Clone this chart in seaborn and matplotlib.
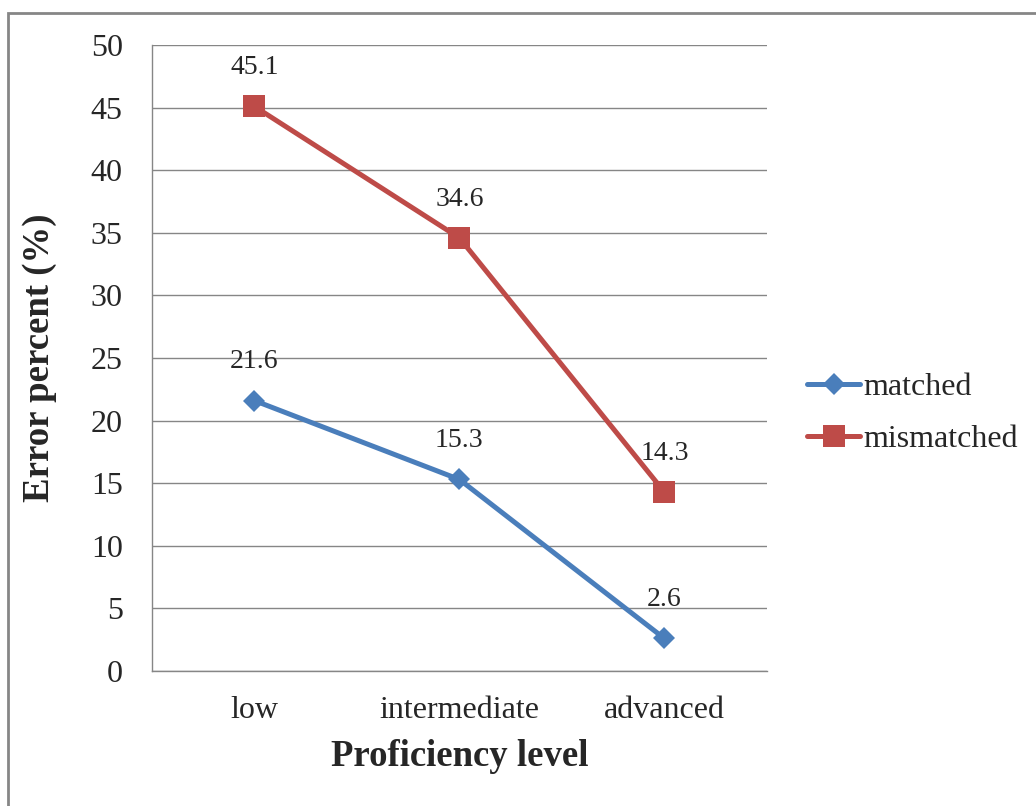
import numpy as np
import pandas as pd
from matplotlib import pyplot as plt
from matplotlib.patches import Rectangle
import seaborn as sns

# data
levels = ['low', 'intermediate', 'advanced']
matched = [21.6, 15.3, 2.6]
mismatched = [45.1, 34.6, 14.3]

df = pd.DataFrame({
    'level': levels * 2,
    'error': matched + mismatched,
    'group': ['matched'] * 3 + ['mismatched'] * 3,
})
df['pos'] = df['level'].map({lv: i for i, lv in enumerate(levels)})

sns.set_style("white")
plt.rcParams['font.family'] = ['Liberation Serif', 'DejaVu Serif']

fig = plt.figure(figsize=(10.36, 8.06), dpi=100)
ax = fig.add_axes([0.1467, 0.1675, 0.5935, 0.7765])

# one call per series so each gets its own marker size
styles = {'matched': ('#4a7ebb', 'D', 11.5), 'mismatched': ('#be4b48', 's', 15.5)}
for grp, (col, mk, ms) in styles.items():
    sub = df[df['group'] == grp]
    sns.lineplot(data=sub, x='pos', y='error', color=col, marker=mk,
                 markersize=ms, markeredgewidth=0, linewidth=3.6,
                 label=grp, ax=ax)

# data labels above the points
for _, row in df.iterrows():
    ax.annotate(f"{row['error']:.1f}", (row['pos'], row['error']),
                xytext=(0, 19), textcoords='offset points',
                ha='center', va='bottom', fontsize=20)

ax.set_xlim(-0.5, 2.5)
ax.set_ylim(0, 50)
ax.set_yticks(np.arange(0, 51, 5))
ax.set_xticks(range(len(levels)))
ax.set_xticklabels(levels)
ax.set_xticks([-0.5, 0.5, 1.5, 2.5], minor=True)
ax.tick_params(axis='x', which='major', length=0, pad=18, labelsize=23)
ax.tick_params(axis='x', which='minor', length=8, width=1, color='#868686', direction='out')
ax.tick_params(axis='y', length=8, width=1, color='#868686', direction='out', pad=13, labelsize=23)

ax.grid(axis='y', color='#868686', linewidth=1)
ax.set_axisbelow(True)
for side in ['top', 'right']:
    ax.spines[side].set_visible(False)
for side in ['left', 'bottom']:
    ax.spines[side].set_color('#868686')
    ax.spines[side].set_linewidth(1)

ax.set_xlabel('Proficiency level', fontsize=26.5, fontweight='bold', labelpad=10)
ax.set_ylabel('Error percent (%)', fontsize=26.5, fontweight='bold', labelpad=24)

ax.legend(loc='center left', bbox_to_anchor=(1.019, 0.412), frameon=False,
          fontsize=23, handlelength=1.65, handletextpad=0.1, labelspacing=0.7)

# outer chart border
fig.patches.append(Rectangle((8 / 1036, -0.05), 1.1, 1 - 13 / 806 + 0.05,
                             transform=fig.transFigure, fill=False,
                             edgecolor='#868686', linewidth=2))

plt.savefig('out.png', dpi=100)
